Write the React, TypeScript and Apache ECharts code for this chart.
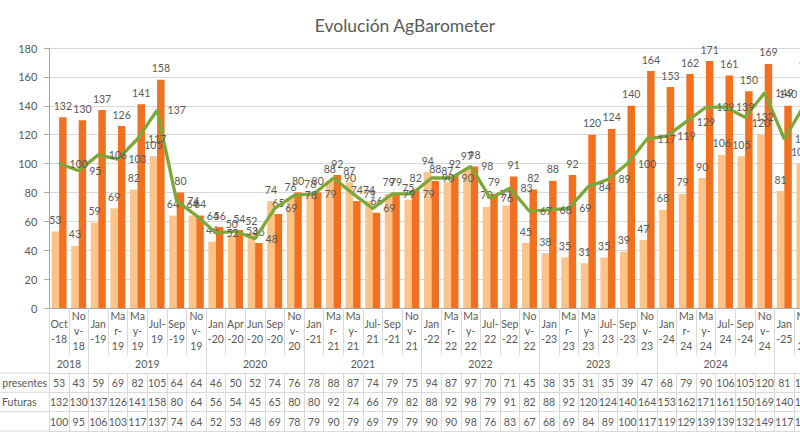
import React, { useEffect, useRef } from 'react';
import * as echarts from 'echarts';

const categories = ['Oct-18','Nov-18','Jan-19','Mar-19','May-19','Jul-19','Sep-19','Nov-19','Jan-20','Apr-20','Jun-20','Sep-20','Nov-20','Jan-21','Mar-21','May-21','Jul-21','Sep-21','Nov-21','Jan-22','Mar-22','May-22','Jul-22','Sep-22','Nov-22','Jan-23','Mar-23','May-23','Jul-23','Sep-23','Nov-23','Jan-24','Mar-24','May-24','Jul-24','Sep-24','Nov-24','Jan-25','Mar-25'];
const presentes = [53,43,59,69,82,105,64,64,46,50,52,74,76,78,88,87,74,79,75,94,87,97,70,71,45,38,35,31,35,39,47,68,79,90,106,105,120,81,100];
const futuras = [132,130,137,126,141,158,80,64,56,54,45,65,80,80,92,74,66,79,82,88,92,98,79,91,82,88,92,120,124,140,164,153,162,171,161,150,169,140,160];
const barometro = [100,95,106,103,117,137,74,64,52,53,48,69,78,79,90,79,69,79,79,90,90,98,76,83,67,68,69,84,89,100,117,119,129,139,139,132,149,117,140];
const yTicks = { min: 0, max: 180, interval: 20 };
const titleText = 'Evolución AgBarometer';
const rowHeaders = ['presentes', 'Futuras', ''];

const FONT = 'Lato, "Liberation Sans", sans-serif';
const TXT = '#595959';
const GRID_LINE = '#D9D9D9';
const AXIS_LINE = '#A6A6A6';
const ORANGE = '#F27121';
const LIGHT = '#FDC489';
const GREEN = '#7EA73A';

const yearOf = (c: string) => '20' + c.slice(-2);
const isYearStart = (i: number) => i === 0 || (i < categories.length && yearOf(categories[i]) !== yearOf(categories[i - 1]));

const wrapLabel = (c: string) => {
  const [m, y] = c.split('-');
  if (m === 'Jul') return `${m}-\n${y}`;
  if (m === 'Nov' || m === 'Mar' || m === 'May') return `${m.slice(0, 2)}\n${m[2]}-\n${y}`;
  return `${m}\n-${y}`;
};

const GRID_LEFT = 49.3;
const GRID_TOP = 48;
const GRID_H = 260;
const COL_W = 19.6;
const AXIS_Y = GRID_TOP + GRID_H; // 308
const ROW_LINES = [373, 392.3, 411.7, 431];

export default function App() {
  const ref = useRef<HTMLDivElement>(null);
  useEffect(() => {
    if (!ref.current) return;
    const chart = echarts.init(ref.current, undefined, { renderer: 'svg' });
    const rowData = [presentes, futuras, barometro];
    const rowAxes = rowData.map((arr, r) => ({
      type: 'category' as const,
      gridIndex: 0,
      position: 'bottom' as const,
      offset: ROW_LINES[r + 1] - AXIS_Y,
      data: categories,
      axisLine: { show: true, lineStyle: { color: GRID_LINE, width: 1 } },
      axisTick: { show: true, inside: true, interval: 0, length: ROW_LINES[r + 1] - ROW_LINES[r], lineStyle: { color: GRID_LINE } },
      axisLabel: {
        show: true, inside: true, interval: 0, margin: 9.5, verticalAlign: 'middle' as const,
        formatter: (_v: string, i: number) => String(arr[i]),
        color: TXT, fontFamily: FONT, fontSize: 10.5,
      },
      splitLine: { show: false },
    }));

    const labelStyle = { color: TXT, fontFamily: FONT, fontSize: 10.5 };

    const option: any = {
      animation: false,
      title: {
        text: titleText, left: 400, top: 11, textAlign: 'center',
        textStyle: { color: TXT, fontFamily: FONT, fontSize: 17.5, fontWeight: 'normal' },
      },
      grid: { left: GRID_LEFT, top: GRID_TOP, width: COL_W * categories.length, height: GRID_H, containLabel: false, outerBoundsMode: 'none' },
      xAxis: [
        {
          type: 'category', gridIndex: 0, position: 'bottom', data: categories,
          axisLine: { show: true, lineStyle: { color: AXIS_LINE } },
          axisTick: { show: true, interval: 0, length: 47, lineStyle: { color: GRID_LINE } },
          axisLabel: {
            interval: 0, formatter: wrapLabel, lineHeight: 15, verticalAlign: 'middle', margin: 23,
            color: TXT, fontFamily: FONT, fontSize: 10.5,
          },
        },
        {
          type: 'category', gridIndex: 0, position: 'bottom', data: categories,
          offset: ROW_LINES[0] - AXIS_Y,
          axisLine: { show: true, lineStyle: { color: GRID_LINE } },
          axisTick: { show: true, inside: true, length: ROW_LINES[0] - AXIS_Y, interval: (i: number) => isYearStart(i), lineStyle: { color: GRID_LINE } },
          axisLabel: { show: false },
        },
        ...rowAxes,
      ],
      yAxis: {
        type: 'value', min: yTicks.min, max: yTicks.max, interval: yTicks.interval,
        axisLine: { show: true, lineStyle: { color: AXIS_LINE } },
        axisTick: { show: true, length: 5, lineStyle: { color: AXIS_LINE } },
        splitLine: { show: true, lineStyle: { color: GRID_LINE } },
        axisLabel: { margin: 12, color: TXT, fontFamily: FONT, fontSize: 11 },
      },
      series: [
        {
          name: 'Condiciones presentes', type: 'bar', data: presentes, xAxisIndex: 0,
          barGap: '0%', barCategoryGap: '23.5%',
          itemStyle: { color: LIGHT },
          label: { show: true, position: 'top', distance: 6, ...labelStyle },
        },
        {
          name: 'Expectativas Futuras', type: 'bar', data: futuras, xAxisIndex: 0,
          barGap: '0%', barCategoryGap: '23.5%',
          itemStyle: { color: ORANGE },
          label: { show: true, position: 'top', distance: 6, ...labelStyle },
        },
        {
          name: 'AgBarometer', type: 'line', data: barometro, xAxisIndex: 0,
          symbol: 'circle', symbolSize: 1, showSymbol: true,
          lineStyle: { color: GREEN, width: 3.3 },
          itemStyle: { color: GREEN },
          label: { show: true, position: 'right', distance: 10, ...labelStyle },
        },
      ],
    };
    chart.setOption(option);

    // Year labels centred on each complete year's group of columns
    // (the last, still-open year continues beyond the visible area, as in the reference)
    const graphics: any[] = [];
    let start = 0;
    for (let i = 1; i < categories.length; i++) {
      if (isYearStart(i)) {
        const x0 = (chart.convertToPixel({ xAxisIndex: 0 }, start) as number) - COL_W / 2;
        const x1 = (chart.convertToPixel({ xAxisIndex: 0 }, i - 1) as number) + COL_W / 2;
        graphics.push({
          type: 'text', x: (x0 + x1) / 2, y: 364,
          style: { text: yearOf(categories[start]), fill: TXT, font: `10.5px ${FONT}`, textAlign: 'center', textVerticalAlign: 'middle' },
        });
        start = i;
      }
    }
    ROW_LINES.forEach((y) => {
      graphics.push({ type: 'line', shape: { x1: 0, y1: y, x2: GRID_LEFT, y2: y }, style: { stroke: GRID_LINE, lineWidth: 1 } });
    });
    graphics.push({ type: 'text', x: 47, y: (ROW_LINES[0] + ROW_LINES[1]) / 2, style: { text: rowHeaders[0], fill: TXT, font: `10.5px ${FONT}`, textAlign: 'right', textVerticalAlign: 'middle' } });
    graphics.push({ type: 'text', x: 2, y: (ROW_LINES[1] + ROW_LINES[2]) / 2, style: { text: rowHeaders[1], fill: TXT, font: `10.5px ${FONT}`, textAlign: 'left', textVerticalAlign: 'middle' } });
    chart.setOption({ graphic: graphics });

    return () => chart.dispose();
  }, []);
  return <div ref={ref} style={{ position: 'absolute', left: 0, top: 0, width: 800, height: 444 }} />;
}
